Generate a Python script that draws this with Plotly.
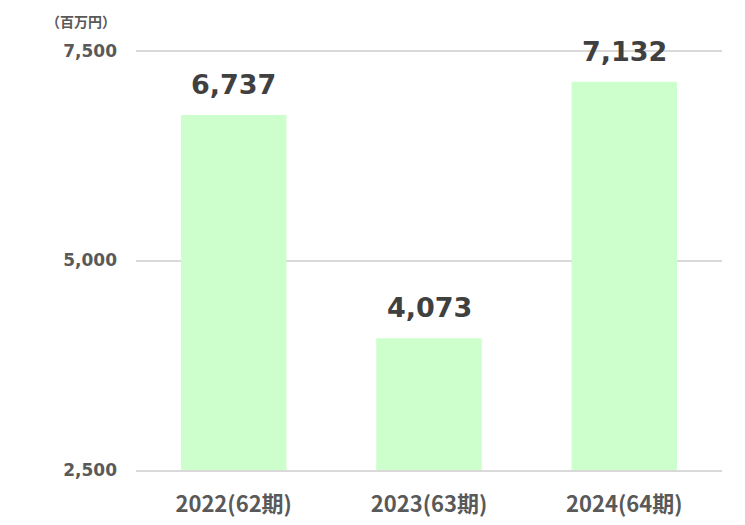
import plotly.graph_objects as go

periods = ['2022(62期)', '2023(63期)', '2024(64期)']
sales = [6737, 4073, 7132]
tick_vals = [2500, 5000, 7500]
tick_text = ['2,500', '5,000', '7,500']

num_font = 'DejaVu Sans, Verdana, sans-serif'
jp_font = 'Noto Sans CJK JP, Noto Sans, sans-serif'

fig = go.Figure()
fig.add_trace(go.Bar(x=periods, y=sales, marker_color='#CCFFCC',
                     marker_line_width=0, hoverinfo='skip'))

# value labels above the bars
for p, v in zip(periods, sales):
    fig.add_annotation(x=p, y=v, text=f'<b>{v:,}</b>', showarrow=False,
                       yanchor='bottom', yshift=13,
                       font=dict(size=27, color='#404040', family=num_font))

# unit label
fig.add_annotation(xref='paper', yref='paper', x=-0.03, y=1.064,
                   xanchor='right', yanchor='middle', showarrow=False,
                   text='<b>（百万円）</b>',
                   font=dict(size=14, color='#595959', family=jp_font))

fig.update_layout(
    width=745, height=525,
    margin=dict(l=128, r=31, t=40, b=63),
    paper_bgcolor='white', plot_bgcolor='white',
    bargap=0.46,
    showlegend=False,
)
fig.update_yaxes(range=[2500, 7536], tickvals=tick_vals,
                 ticktext=[f'<b>{t}</b>' for t in tick_text],
                 showgrid=True, gridcolor='#D9D9D9', gridwidth=1.5,
                 zeroline=False, showline=False, ticks='', ticklabelstandoff=18,
                 tickfont=dict(size=17, color='#595959', family=num_font))
fig.update_xaxes(showline=True, linecolor='#D9D9D9', linewidth=1.5,
                 ticks='', ticklabelstandoff=14,
                 tickvals=periods, ticktext=[f'<b>{p}</b>' for p in periods],
                 tickfont=dict(size=22, color='#595959', family=jp_font))

fig.write_html('out.html')
